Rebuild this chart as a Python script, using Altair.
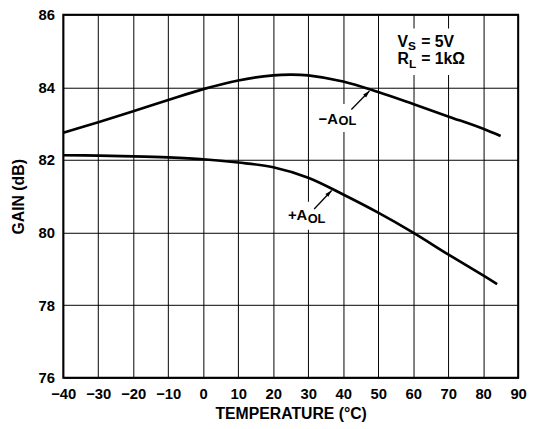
import altair as alt
import pandas as pd

FONT = "Liberation Sans"

# Curves (temperature °C, gain dB)
neg_t = [-40, -30, -20, -10, 0, 10, 20, 25, 30, 40, 50, 60, 70, 80, 85]
neg_g = [82.75, 83.04, 83.34, 83.65, 83.95, 84.19, 84.33, 84.35, 84.33, 84.16, 83.87, 83.54, 83.20, 82.86, 82.66]
pos_t = [-40, -30, -20, -10, 0, 10, 20, 30, 40, 50, 60, 70, 80, 84]
pos_g = [82.13, 82.12, 82.10, 82.07, 82.02, 81.93, 81.80, 81.51, 81.05, 80.55, 80.00, 79.40, 78.82, 78.58]

x_ticks = list(range(-40, 100, 10))
y_ticks = [76, 78, 80, 82, 84, 86]

# Annotation text pieces (left-aligned, alphabetic baseline)
ann_text = ["V", "S", "= 5V", "R", "L", "= 1kΩ", "\u2212A", "OL", "+A", "OL"]
ann_x = [55.5, 58.56, 62.3, 55.5, 58.8, 62.3, 32.95, 38.68, 24.21, 29.85]
ann_y = [85.10, 85.02, 85.10, 84.64, 84.53, 84.64, 82.99, 82.95, 80.35, 80.26]
ann_size = [16, 12, 16, 16, 12, 16, 15, 13, 15, 13]

# White label backgrounds that interrupt the grid
box_x = [53.3, 32.2, 23.2]
box_x2 = [76.75, 44.6, 35.9]
box_y = [85.62, 83.54, 80.85]
box_y2 = [84.34, 82.77, 80.08]

# Arrows (tail -> tip)
arr_x = [42.35, 31.72]
arr_y = [83.39, 80.65]
arr_x2 = [47.51, 36.71]
arr_y2 = [83.90, 81.16]

curves = pd.concat([
    pd.DataFrame({"t": neg_t, "g": neg_g, "s": "neg"}),
    pd.DataFrame({"t": pos_t, "g": pos_g, "s": "pos"}),
])
ann = pd.DataFrame({"x": ann_x, "y": ann_y, "text": ann_text, "size": ann_size})
boxes = pd.DataFrame({"x": box_x, "x2": box_x2, "y": box_y, "y2": box_y2})
arrows = pd.DataFrame({"x": arr_x, "y": arr_y, "x2": arr_x2, "y2": arr_y2})

xs = alt.Scale(domain=[-40, 90], nice=False)
ys = alt.Scale(domain=[76, 86], nice=False)

x_axis = alt.Axis(values=x_ticks, title="TEMPERATURE (°C)", labelExpr="replace(datum.label, '-', '\u2212')",
                  titleX=230.5, titleY=41.7, titleBaseline="alphabetic", labelPadding=9,
                  labelOverlap=False, labelFlush=False)
y_axis = alt.Axis(values=y_ticks, title="GAIN (dB)", titleX=-40.7, titleY=184, titleAngle=270,
                  titleBaseline="alphabetic", labelPadding=9, labelOverlap=False, labelFlush=False)


def X(field):
    return alt.X(field, scale=xs, axis=x_axis)


def Y(field):
    return alt.Y(field, scale=ys, axis=y_axis)


rects = alt.Chart(boxes).mark_rect(color="white").encode(
    x=X("x:Q"), x2="x2", y=Y("y:Q"), y2="y2"
)

base_curve = alt.Chart(curves).mark_line(color="black", strokeWidth=2.7, interpolate="catmull-rom").encode(
    x=X("t:Q"), y=Y("g:Q"), detail="s:N",
)

rules = alt.Chart(arrows).mark_rule(color="black", strokeWidth=1.3).encode(
    x=X("x:Q"), y=Y("y:Q"), x2="x2", y2="y2"
)

heads = alt.Chart(arrows).mark_point(
    shape="M0,0 L0.6,2 L-0.6,2 Z", filled=True, color="black", opacity=1, size=49, angle=44
).encode(x=X("x2:Q"), y=Y("y2:Q"))

texts = alt.Chart(ann).mark_text(align="left", baseline="alphabetic", font=FONT, fontWeight="bold", color="black").encode(
    x=X("x:Q"), y=Y("y:Q"), text="text:N",
    size=alt.Size("size:Q", scale=None),
)

chart = alt.layer(rects, base_curve, rules, heads, texts).properties(
    width=461, height=368,
    autosize=alt.AutoSizeParams(type="none"),
    padding={"left": 56, "top": 4, "right": 9, "bottom": 45},
    background="white",
).configure_view(stroke="black", strokeWidth=2).configure_axis(
    labelFont=FONT, labelFontWeight="bold", labelFontSize=15, labelColor="black",
    titleFont=FONT, titleFontWeight="bold", titleFontSize=16, titleColor="black",
    ticks=False, domain=False, grid=True, gridColor="black", gridOpacity=1, gridWidth=1,
)

chart.save("out.html", embed_options={"renderer": "svg", "actions": False})
